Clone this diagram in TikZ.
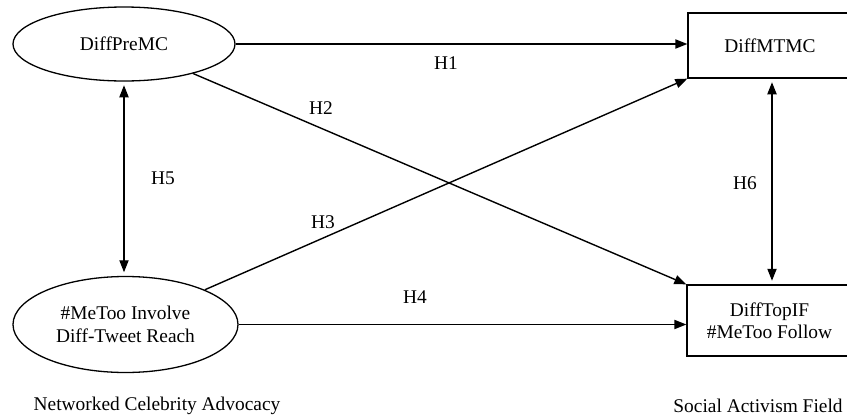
\documentclass[tikz,border=0pt]{standalone}
\usepackage{fontspec}
\setmainfont{Liberation Serif}
\usetikzlibrary{arrows.meta,shapes.geometric}
\begin{document}
\begin{tikzpicture}[x=0.5pt,y=-0.5pt,
  every node/.style={font=\fontsize{9.7}{11.2}\selectfont, inner sep=0pt},
  construct/.style={draw, ellipse, line width=0.65pt, align=center},
  outcome/.style={draw, rectangle, line width=0.65pt, align=center},
  path/.style={line width=0.7pt, -{Triangle[length=6pt,width=4.6pt]}},
  twoway/.style={line width=0.7pt, {Triangle[length=6pt,width=4.6pt]}-{Triangle[length=6pt,width=4.6pt]}, shorten <=1.8pt, shorten >=1.8pt},
  hyp/.style={}]
\useasboundingbox (0,0) rectangle (847,418);
% constructs
\node[construct, minimum width=111pt, minimum height=37pt] (pre) at (124,44) {DiffPreMC};
\node[construct, minimum width=112.5pt, minimum height=48pt] (inv) at (125.5,324.5) {\#MeToo Involve\\Diff-Tweet Reach};
\node[outcome, minimum width=82pt, minimum height=32.5pt] (mtmc) at (770,45.5) {DiffMTMC};
\node[outcome, minimum width=82.5pt, minimum height=35.5pt] (topif) at (769.5,320.5) {DiffTopIF\\\#MeToo Follow};
% hypothesised paths
\draw[path] (pre.east) -- (pre.east -| mtmc.west);
\draw[path] (pre) -- (topif.north west);
\draw[path] (inv) -- (mtmc.south west);
\draw[path] (inv.east) -- (inv.east -| topif.west);
\draw[twoway] (pre.south) -- (pre.south |- inv.north);
\draw[twoway] (mtmc.south) ++(2,0) coordinate (m6) (m6) -- (m6 |- topif.north);
% hypothesis labels
\node[hyp] (h1) at (446,63) {H1};
\node[hyp] (h2) at (321,108) {H2};
\node[hyp] (h3) at (323,222) {H3};
\node[hyp] (h4) at (415,297) {H4};
\node[hyp] (h5) at (163,178) {H5};
\node[hyp] (h6) at (745,183) {H6};
% field captions
\node (ncaField) at (157,406) {Networked Celebrity Advocacy};
\node (safField) at (758,406) {Social Activism Field};
\end{tikzpicture}
\end{document}
